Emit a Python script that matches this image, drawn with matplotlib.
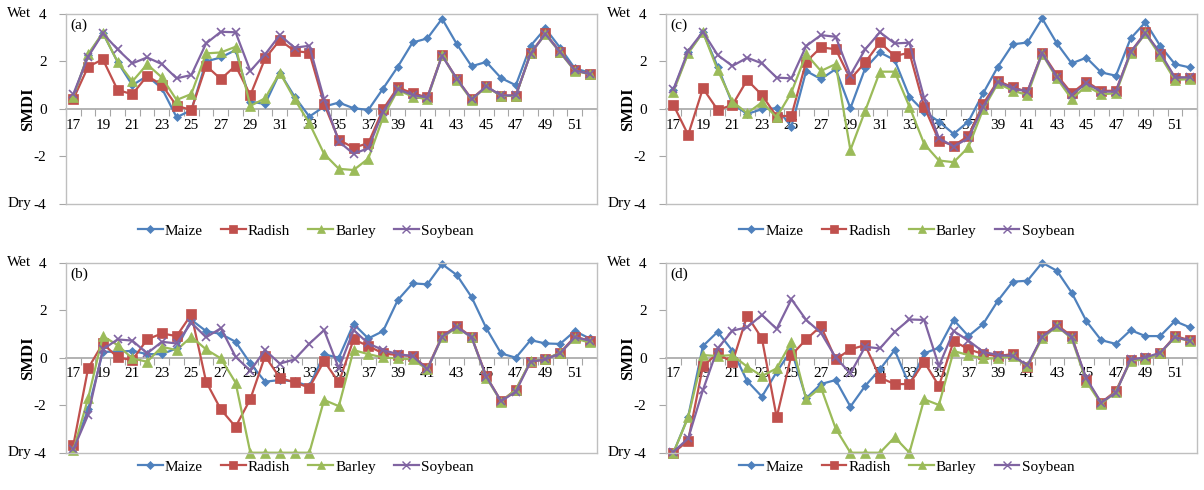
import numpy as np
import matplotlib
matplotlib.use('Agg')
import matplotlib.pyplot as plt
from matplotlib.lines import Line2D

plt.rcParams['font.family'] = ['Liberation Serif', 'DejaVu Serif']
plt.rcParams['axes.unicode_minus'] = False

# 周次 17-52
weeks = np.arange(17, 53)
crops = ['Maize', 'Radish', 'Barley', 'Soybean']

# (a)
maize_a = [0.52, 2.27, 3.2, 1.98, 1.0, 1.39, 0.87, -0.35, -0.05, 2.0,
           2.17, 2.48, 0.31, 0.21, 1.53, 0.52, -0.32, 0.1, 0.27, 0.03,
           -0.04, 0.86, 1.78, 2.8, 2.97, 3.8, 2.73, 1.8, 1.98, 1.3,
           1.0, 2.66, 3.39, 2.58, 1.71, 1.53]
radish_a = [0.42, 1.78, 2.09, 0.8, 0.62, 1.39, 1.02, 0.13, -0.04, 1.82,
            1.26, 1.82, 0.58, 2.13, 2.9, 2.44, 2.37, 0.21, -1.3, -1.63,
            -1.44, -0.01, 0.91, 0.66, 0.49, 2.27, 1.26, 0.43, 0.95, 0.56,
            0.56, 2.34, 3.18, 2.41, 1.64, 1.47]
barley_a = [0.52, 2.31, 3.21, 1.98, 1.16, 1.88, 1.33, 0.38, 0.63, 2.34,
            2.38, 2.62, 0.13, 0.45, 1.53, 0.41, -0.6, -1.89, -2.52, -2.57,
            -2.09, -0.35, 0.8, 0.52, 0.41, 2.27, 1.22, 0.38, 0.94, 0.55,
            0.55, 2.34, 3.14, 2.38, 1.6, 1.47]
soybean_a = [0.63, 2.2, 3.18, 2.51, 1.92, 2.17, 1.89, 1.29, 1.43, 2.76,
             3.25, 3.23, 1.6, 2.3, 3.11, 2.58, 2.66, 0.41, -1.37, -1.89,
             -1.65, -0.11, 0.83, 0.59, 0.48, 2.24, 1.28, 0.4, 0.95, 0.57,
             0.57, 2.33, 3.16, 2.4, 1.63, 1.47]

# (b)
maize_b = [-3.86, -2.18, 0.25, 0.25, 0.29, 0.15, 0.15, 0.39, 1.59, 1.12,
           1.0, 0.67, -0.24, -1.01, -0.94, -1.0, -1.2, 0.14, 0.0, 1.42,
           0.81, 1.12, 2.43, 3.13, 3.09, 3.94, 3.48, 2.55, 1.24, 0.18,
           0.0, 0.74, 0.6, 0.58, 1.12, 0.81]
radish_b = [-3.68, -0.45, 0.6, 0.01, -0.1, 0.77, 1.02, 0.91, 1.82, -1.01,
            -2.18, -2.91, -1.74, 0.07, -0.85, -1.04, -1.26, -0.14, -1.04, 0.77,
            0.49, 0.18, 0.11, 0.07, -0.45, 0.91, 1.33, 0.88, -0.78, -1.83,
            -1.35, -0.17, -0.07, 0.21, 0.88, 0.72]
barley_b = [-3.89, -1.71, 0.91, 0.53, -0.03, -0.17, 0.46, 0.32, 0.88, 0.35,
            -0.03, -1.05, -4.0, -4.0, -4.0, -4.0, -4.0, -1.78, -2.04, 0.32,
            0.15, 0.01, -0.03, -0.07, -0.49, 0.86, 1.26, 0.86, -0.84, -1.85,
            -1.35, -0.14, -0.07, 0.21, 0.81, 0.64]
soybean_b = [-3.86, -2.41, 0.35, 0.77, 0.72, 0.18, 0.67, 0.6, 1.47, 0.86,
             1.24, 0.04, -0.55, 0.32, -0.25, -0.07, 0.59, 1.16, -0.45, 1.16,
             0.6, 0.32, 0.15, 0.07, -0.49, 0.88, 1.3, 0.86, -0.8, -1.83,
             -1.43, -0.17, -0.07, 0.18, 0.86, 0.72]

# (c)
maize_c = [0.8, 2.38, 3.23, 1.78, 0.21, -0.21, -0.01, 0.03, -0.74, 1.6,
           1.26, 1.68, 0.03, 1.71, 2.38, 2.06, 0.52, -0.11, -0.53, -1.05,
           -0.53, 0.66, 1.78, 2.72, 2.8, 3.81, 2.76, 1.92, 2.16, 1.54,
           1.4, 2.97, 3.65, 2.66, 1.89, 1.75]
radish_c = [0.17, -1.09, 0.87, -0.04, 0.17, 1.22, 0.59, -0.32, -0.28, 1.99,
            2.59, 2.52, 1.26, 1.96, 2.8, 2.23, 2.37, 0.1, -1.33, -1.54,
            -1.14, 0.21, 1.19, 0.91, 0.73, 2.37, 1.43, 0.66, 1.15, 0.76,
            0.77, 2.38, 3.23, 2.31, 1.32, 1.32]
barley_c = [0.73, 2.34, 3.23, 1.64, 0.31, -0.18, 0.28, -0.35, 0.7, 2.31,
            1.6, 1.89, -1.73, -0.08, 1.57, 1.57, 0.1, -1.47, -2.17, -2.24,
            -1.61, -0.01, 1.08, 0.77, 0.59, 2.31, 1.29, 0.42, 0.97, 0.62,
            0.66, 2.34, 3.18, 2.24, 1.22, 1.26]
soybean_c = [0.83, 2.45, 3.25, 2.27, 1.81, 2.16, 1.92, 1.32, 1.29, 2.65,
             3.11, 3.04, 1.43, 2.51, 3.23, 2.76, 2.79, 0.45, -1.23, -1.58,
             -1.23, 0.1, 1.15, 0.87, 0.73, 2.34, 1.36, 0.59, 1.08, 0.73,
             0.73, 2.41, 3.18, 2.37, 1.33, 1.33]

# (d)
maize_d = [-4.0, -2.48, 0.49, 1.09, 0.29, -0.98, -1.64, -0.6, 0.32, -1.71,
           -1.11, -0.94, -2.06, -1.19, -0.49, 0.32, -1.15, 0.18, 0.42, 1.59,
           0.91, 1.42, 2.4, 3.2, 3.24, 4.0, 3.66, 2.74, 1.54, 0.74,
           0.58, 1.16, 0.91, 0.91, 1.54, 1.28]
radish_d = [-4.0, -3.49, -0.35, 0.18, -0.2, 1.77, 0.81, -2.51, 0.11, 0.77,
            1.33, -0.07, 0.35, 0.53, -0.84, -1.11, -1.11, -0.17, -1.19, 0.7,
            0.36, 0.15, 0.07, 0.15, -0.41, 0.91, 1.38, 0.91, -0.94, -1.89,
            -1.4, -0.1, -0.03, 0.18, 0.91, 0.74]
barley_d = [-4.0, -2.51, 0.11, 0.07, 0.11, -0.38, -0.77, -0.45, 0.67, -1.75,
            -1.25, -2.98, -4.0, -4.0, -4.0, -3.35, -4.0, -1.75, -1.99, 0.28,
            0.11, -0.03, -0.03, 0.07, -0.35, 0.81, 1.33, 0.81, -1.01, -1.95,
            -1.43, -0.13, -0.07, 0.18, 0.86, 0.7]
soybean_d = [-3.96, -3.4, -1.36, 0.39, 1.14, 1.28, 1.8, 1.21, 2.46, 1.59,
             1.05, 0.01, -0.66, 0.46, 0.39, 1.09, 1.61, 1.59, -0.35, 1.12,
             0.72, 0.25, 0.11, 0.07, -0.31, 0.88, 1.33, 0.86, -0.87, -1.89,
             -1.47, -0.07, 0.01, 0.21, 0.86, 0.72]

colors = ['#4F81BD', '#C0504D', '#9BBB59', '#8064A2']
markers = ['D', 's', '^', 'x']
msizes = [4.5, 6.5, 6.5, 6]
grey = '#A6A6A6'


def draw_panel(ax, series, tag):
    for vals, c, m, ms in zip(series, colors, markers, msizes):
        ax.plot(weeks, vals, color=c, marker=m, markersize=ms, lw=1.6,
                markeredgewidth=1.2 if m == 'x' else 0.5, clip_on=False)
    ax.set_xlim(16.5, 52.5)
    ax.set_ylim(-4, 4)
    for s in ax.spines.values():
        s.set_color('#BFBFBF')
        s.set_linewidth(1)
    ax.set_xticks([])
    ax.set_yticks([-4, -2, 0, 2, 4])
    ax.tick_params(axis='y', direction='out', length=5, color=grey,
                   labelsize=11, pad=9)
    # 0 处的分类轴
    sec = ax.secondary_xaxis(0.5)
    sec.set_alignment('bottom')
    sec.spines['bottom'].set_color(grey)
    sec.spines['bottom'].set_linewidth(1.2)
    sec.set_xticks(np.arange(16.5, 53, 1))
    sec.set_xticklabels([])
    sec.set_xticks(weeks[::2], [str(w) for w in weeks[::2]], minor=True)
    sec.tick_params(which='major', direction='out', length=5, color=grey)
    sec.tick_params(which='minor', length=0, labelsize=11, pad=7)
    tr = ax.get_yaxis_transform()
    ax.text(-0.065, 4, 'Wet', transform=tr, ha='right', va='center', fontsize=11)
    ax.text(-0.065, -4, 'Dry', transform=tr, ha='right', va='center', fontsize=11)
    ax.text(-0.072, 0.5, 'SMDI', transform=ax.transAxes, rotation=90,
            ha='center', va='center', fontsize=12, fontweight='bold')
    ax.text(0.008, 0.94, tag, transform=ax.transAxes, ha='left', va='center',
            fontsize=11)


fig = plt.figure(figsize=(12.04, 4.9), dpi=100)
ax_a = fig.add_axes([0.0548, 0.5837, 0.441, 0.3878])
ax_c = fig.add_axes([0.5532, 0.5837, 0.441, 0.3878])
ax_b = fig.add_axes([0.0548, 0.0761, 0.441, 0.3878])
ax_d = fig.add_axes([0.5532, 0.0761, 0.441, 0.3878])

draw_panel(ax_a, [maize_a, radish_a, barley_a, soybean_a], '(a)')
draw_panel(ax_b, [maize_b, radish_b, barley_b, soybean_b], '(b)')
draw_panel(ax_c, [maize_c, radish_c, barley_c, soybean_c], '(c)')
draw_panel(ax_d, [maize_d, radish_d, barley_d, soybean_d], '(d)')

handles = [Line2D([], [], color=c, marker=m, markersize=ms * 0.85, lw=1.6,
                  markeredgewidth=1.0 if m == 'x' else 0.5)
           for c, m, ms in zip(colors, markers, msizes)]
for x, y in [(0.254, 0.529), (0.753, 0.529), (0.254, 0.047), (0.753, 0.047)]:
    fig.legend(handles, crops, loc='center', bbox_to_anchor=(x, y), ncol=4,
               frameon=False, fontsize=11, handlelength=1.6, handletextpad=0.15,
               columnspacing=1.2, borderpad=0)

fig.savefig('out.png', dpi=100)
